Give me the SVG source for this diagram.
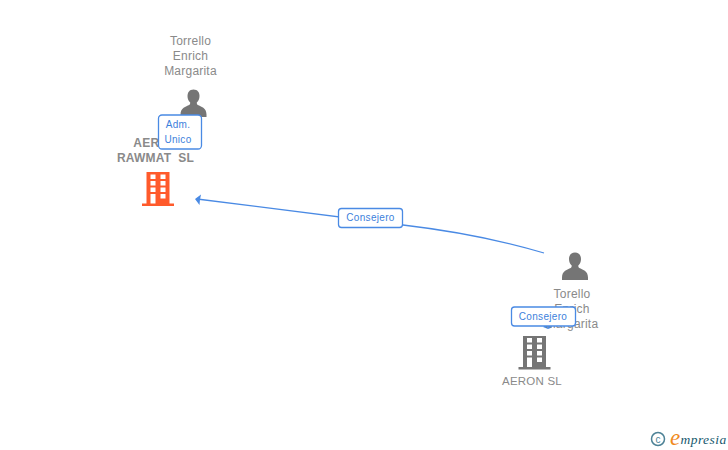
<svg xmlns="http://www.w3.org/2000/svg" width="728" height="450" viewBox="0 0 728 450">
<style>
text{font-family:"Liberation Sans",Arial,sans-serif}
.n{font-size:12px;fill:#8a8a8a;text-anchor:middle;letter-spacing:.22px}
.b{font-size:12px;font-weight:bold;fill:#8a8a8a;text-anchor:middle;letter-spacing:.2px}
.l{font-size:10px;fill:#3d7fdc;text-anchor:middle;letter-spacing:.32px}
.box{fill:#fff;stroke:#4a8ae4;stroke-width:1.3}
.edge{fill:none;stroke:#4a8ae4;stroke-width:1.3}
.arr{fill:#4a8ae4}
.win{fill:#fff}
</style>
<defs>
<path id="person" d="M0-14.500c-4 0-6 2.900-6 6.500 0 2.800 1 5 2.700 6.400 0 1.200-.2 2-1 2.500C-7.500 2.500-13 3.500-13 10.500V13H13V10.500C13 3.500 7.500 2.500 4.300.9 3.500.4 3.300-.4 3.300-1.600 5-3 6-5.200 6-8c0-3.600-2-6.500-6-6.500z"/>
<g id="windows" class="win">
<rect x="-7.500" y="-14" width="5" height="4.500"/><rect x="2.500" y="-14" width="5" height="4.500"/>
<rect x="-7.500" y="-7.500" width="5" height="4.500"/><rect x="2.500" y="-7.500" width="5" height="4.500"/>
<rect x="-7.500" y="-1" width="5" height="4.500"/><rect x="2.500" y="-1" width="5" height="4.500"/>
<rect x="-7.500" y="5.500" width="5" height="9.500"/><rect x="2.500" y="5.500" width="5" height="4.500"/>
</g>
</defs>
<g id="connectors">
<path class="edge" d="M544 253Q480 234 403 225L197 199"/>
<path class="arr" d="M195 199L201 194.500 200 199.500 199.500 205z"/>
<path class="arr" d="M543 327L549 322.500 552 327.500 548 329z"/>
</g>
<g id="node-person-top">
<text class="n" x="190.500" y="45">Torrello</text>
<text class="n" x="190.500" y="60">Enrich</text>
<text class="n" x="190.500" y="75">Margarita</text>
<use href="#person" x="193.500" y="104" fill="#757575"/>
</g>
<g id="node-aeron-rawmat">
<text class="b" x="155.500" y="147">AERON</text>
<text class="b" x="155.500" y="162">RAWMAT&#160;&#160;SL</text>
<g transform="translate(158 188.500)">
<rect x="-11.500" y="-16.500" width="23" height="32" fill="#ff5a2b"/>
<rect x="-16" y="15" width="32" height="2.500" fill="#ff5a2b"/>
<use href="#windows"/>
</g>
</g>
<g id="node-person-bottom">
<use href="#person" x="575" y="267" fill="#757575"/>
<text class="n" x="572" y="298">Torello</text>
<text class="n" x="572" y="313">Enrich</text>
<text class="n" x="572" y="328">Margarita</text>
</g>
<g id="node-aeron">
<g transform="translate(534.500 352)">
<rect x="-11.500" y="-16" width="23" height="31" fill="#757575"/>
<rect x="-16" y="15" width="32" height="2.500" fill="#757575"/>
<use href="#windows"/>
</g>
<text class="n" x="532" y="385" style="font-size:11.500px">AERON SL</text>
</g>
<g id="label-adm">
<rect class="box" x="158.500" y="115" width="43" height="34" rx="3.500"/>
<text class="l" x="178" y="128">Adm.</text>
<text class="l" x="178" y="143">Unico</text>
</g>
<g id="label-consejero-1">
<rect class="box" x="338.500" y="208.500" width="64" height="19" rx="3"/>
<text class="l" x="370.500" y="221">Consejero</text>
</g>
<g id="label-consejero-2">
<rect class="box" x="511.500" y="307" width="64" height="19" rx="3"/>
<text class="l" x="543" y="320">Consejero</text>
</g>
<g id="logo">
<circle cx="658" cy="439" r="6.500" fill="none" stroke="#4d8296" stroke-width="1.500"/>
<text x="658" y="442.500" font-size="10" fill="#4d8296" text-anchor="middle">c</text>
<text x="670" y="445" font-size="23" font-style="italic" fill="#f08a1d" style="font-family:'Liberation Serif',serif">e</text>
<text x="680.500" y="444" font-size="13.500" font-style="italic" fill="#17596e" style="font-family:'Liberation Serif',serif" letter-spacing=".45">mpresia</text>
</g>
</svg>
